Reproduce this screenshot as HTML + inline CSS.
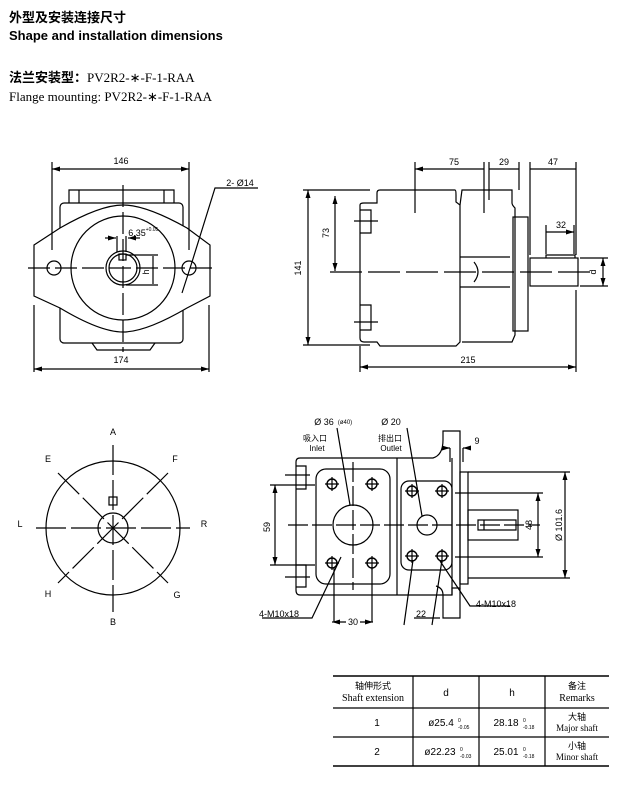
<!DOCTYPE html>
<html><head><meta charset="utf-8"><style>
body{margin:0;background:#fff;width:621px;height:796px;overflow:hidden;font-family:"Liberation Sans","Noto Sans CJK SC",sans-serif}
svg{position:absolute;left:0;top:0}
</style></head><body>
<svg width="621" height="796" viewBox="0 0 621 796" xmlns="http://www.w3.org/2000/svg" font-family="Liberation Sans, Noto Sans CJK SC, sans-serif">
<defs><marker id="a" markerWidth="8" markerHeight="6" refX="8" refY="3" orient="auto-start-reverse" markerUnits="userSpaceOnUse"><path d="M0,0.5 L8,3 L0,5.5z" fill="#000"/></marker></defs>
<text x="9" y="22" font-size="13" font-weight="bold" font-family="Noto Sans CJK SC, sans-serif">外型及安装连接尺寸</text>
<text x="9" y="40" font-size="13" font-weight="bold" font-family="Liberation Sans Narrow, Liberation Sans, sans-serif">Shape and installation dimensions</text>
<text x="9" y="82" font-size="13"><tspan font-weight="bold" font-family="Noto Sans CJK SC, sans-serif">法兰安装型：</tspan><tspan font-family="Liberation Serif, serif">PV2R2-∗-F-1-RAA</tspan></text>
<text x="9" y="101" font-size="13" font-family="Liberation Serif, serif">Flange mounting: PV2R2-∗-F-1-RAA</text>

<g stroke="#000" fill="none" stroke-width="1.2">
<!-- view 1 -->
<path d="M69,203 V190 H174 V203"/><path d="M79,190 V203 M164,190 V203"/>
<rect x="60" y="203" width="123" height="140" rx="4"/>
<path d="M92,343 L97,350 H150 L155,343"/>
<path d="M34,245 L60,228 Q100,205 123,205 Q146,205 187,228 L210,245 V296 L187,308 Q146,332 123,332 Q100,332 60,308 L34,296 Z" fill="#fff"/>
<circle cx="123" cy="268" r="52"/>
<circle cx="123" cy="268" r="17"/><circle cx="123" cy="268" r="14"/>
<rect x="119" y="254" width="7" height="6"/>
<circle cx="54" cy="268" r="7"/><circle cx="189" cy="268" r="7"/>
<path d="M28,268 H215" stroke-dasharray="22,5"/><path d="M123,185 V352" stroke-dasharray="22,5"/>
<path d="M52,162 V250 M189,162 V250"/><path d="M52,169 H189" marker-start="url(#a)" marker-end="url(#a)"/>
<path d="M34,305 V372 M209,305 V372"/><path d="M34,369 H209" marker-start="url(#a)" marker-end="url(#a)"/>
<path d="M105,238 H116" marker-end="url(#a)"/><path d="M140,238 H128" marker-end="url(#a)"/><path d="M117,236 V252 M126,236 V252"/>
<path d="M126,255 H158 M126,285 H158 M153,256 V284"/>
<path d="M258,188 H215 L192,262" /><path d="M192,262 L182,293"/>
<!-- view 2 -->
<path d="M303,190 H370 M303,345 H370"/><path d="M308,190 V345" marker-start="url(#a)" marker-end="url(#a)"/>
<path d="M335,196 V271" marker-start="url(#a)" marker-end="url(#a)"/>
<path d="M360,205 Q360,203 364,203 H377 V193 Q377,190 380,190 H455 Q456,190 456,195 V202 L460,205 V342 L456,346 H380 L377,342 H364 Q360,342 360,338 Z"/>
<path d="M460,205 L462,190 H512 V203 Q512,205 515,208 V335 L512,342 H462"/>
<path d="M360,210 H371 V233 H360 M360,305 H371 V330 H360"/>
<path d="M354,221 H378 M354,322 H378"/>
<rect x="513" y="217" width="15" height="114"/>
<path d="M460,257 H510 M460,287 H510 M474,262 Q482,272 474,282"/>
<rect x="530" y="258" width="48" height="28"/><path d="M546,258 V255 H575 V258"/>
<path d="M330,272 H592" stroke-dasharray="32,6"/>
<path d="M415,162 V213 M484,162 V213 M489,162 V200 M519,162 V190 M530,162 V255 M576,162 V255 M546,225 V254 M574,225 V254"/>
<path d="M415,169 H484 M489,169 H519 M530,169 H576 M546,232 H574" marker-start="url(#a)" marker-end="url(#a)"/>
<path d="M580,258 H608 M580,286 H608"/><path d="M603,258 V286" marker-start="url(#a)" marker-end="url(#a)"/>
<path d="M360,346 V372 M576,290 V372"/><path d="M360,367 H576" marker-start="url(#a)" marker-end="url(#a)"/>
<!-- view 3 -->
<circle cx="113" cy="528" r="67"/><circle cx="113" cy="528" r="15"/>
<rect x="109" y="497" width="8" height="8"/>
<path d="M36,528 H190 M113,445 V612" stroke-dasharray="30,5"/>
<path d="M58,473 L168,583 M168,473 L58,583" stroke-dasharray="30,5"/>
<!-- view 4 -->
<path d="M296,462 Q296,458 300,458 H433 Q443,455 443,440 V431 H460 V588 H452 V595 H300 Q296,595 296,590 Z"/>
<path d="M443,595 V618 H460 V588 M443,595 Q443,588 436,586"/>
<path d="M397,458 V595 M452,458 V595"/>
<path d="M296,466 H306 V489 H296 M296,565 H306 V587 H296 M285,475 H310 M285,577 H310"/>
<rect x="460" y="472" width="8" height="112"/>
<rect x="468" y="510" width="50" height="30"/><path d="M478,520 H516 V530 H478 Z M484,520 V530"/>
<rect x="316" y="469" width="74" height="115" rx="10"/>
<circle cx="353" cy="525" r="20"/>
<rect x="401" y="481" width="51" height="89" rx="8"/>
<circle cx="427" cy="525" r="10"/>
<g stroke-width="1.4"><circle cx="332" cy="484" r="5"/><circle cx="372" cy="484" r="5"/><circle cx="332" cy="563" r="5"/><circle cx="372" cy="563" r="5"/><circle cx="412" cy="491" r="5"/><circle cx="442" cy="491" r="5"/><circle cx="412" cy="556" r="5"/><circle cx="442" cy="556" r="5"/></g>
<path d="M325,484 H339 M332,477 V491 M365,484 H379 M372,477 V491 M325,563 H339 M332,556 V570 M365,563 H379 M372,556 V570 M405,491 H419 M412,484 V498 M435,491 H449 M442,484 V498 M405,556 H419 M412,549 V563 M435,556 H449 M442,549 V563"/>
<path d="M288,525 H540 M353,462 V590" stroke-dasharray="20,4"/>
<path d="M270,485 H315 M270,565 H315"/><path d="M275,485 V565" marker-start="url(#a)" marker-end="url(#a)"/>
<path d="M455,493 H543 M455,557 H543"/><path d="M538,493 V557" marker-start="url(#a)" marker-end="url(#a)"/>
<path d="M468,472 H570 M468,578 H570"/><path d="M565,472 V578" marker-start="url(#a)" marker-end="url(#a)"/>
<path d="M334,568 V622 M372,568 V622"/><path d="M338,622 H346 M368,622 H360" />
<path d="M337,622 L332,622" marker-end="url(#a)"/><path d="M368,622 L373,622" marker-end="url(#a)"/>
<path d="M413,560 L404,625 M442,560 L432,625 M414,618 H440" />
<path d="M450,448 V462 M463,448 V462 M445,448 H450" marker-end="url(#a)"/><path d="M468,448 H463" marker-end="url(#a)"/>
<path d="M337,428 L350,505 M407,428 L422,516 M341,557 L312,618 H262 M440,561 L470,606 H510"/>
<!-- table -->
<path d="M333,676 H609 M333,766 H609" stroke-width="1.6"/>
<path d="M333,708 H609 M333,737 H609 M413,676 V766 M479,676 V766 M545,676 V766"/>
</g>
<g font-size="9" text-anchor="middle">
<text x="121" y="164">146</text><text x="121" y="363">174</text>
<text x="240" y="186">2- Ø14</text>
<text x="137" y="236">6.35</text><text x="152" y="231" font-size="5">+0.05</text>
<text x="149" y="272" transform="rotate(-90 149 272)">h</text>
<text x="454" y="165">75</text><text x="504" y="165">29</text><text x="553" y="165">47</text>
<text x="561" y="228">32</text><text x="468" y="363">215</text>
<text x="301" y="268" transform="rotate(-90 301 268)">141</text>
<text x="329" y="233" transform="rotate(-90 329 233)">73</text>
<text x="596" y="272" transform="rotate(-90 596 272)">d</text>
<text x="113" y="435">A</text><text x="113" y="625">B</text><text x="20" y="527">L</text><text x="204" y="527">R</text>
<text x="48" y="462">E</text><text x="175" y="462">F</text><text x="48" y="597">H</text><text x="177" y="598">G</text>
<text x="324" y="425">Ø 36</text><text x="345" y="424" font-size="6">(ø40)</text>
<text x="391" y="425">Ø 20</text>
<text x="315" y="441" font-size="8">吸入口</text><text x="317" y="451" font-size="8">Inlet</text>
<text x="390" y="441" font-size="8">排出口</text><text x="391" y="451" font-size="8">Outlet</text>
<text x="477" y="444">9</text>
<text x="270" y="527" transform="rotate(-90 270 527)">59</text>
<text x="532" y="525" transform="rotate(-90 532 525)">48</text>
<text x="562" y="525" transform="rotate(-90 562 525)">Ø 101.6</text>
<text x="353" y="625">30</text><text x="421" y="617">22</text>
<text x="279" y="617">4-M10x18</text><text x="496" y="607">4-M10x18</text>
<text x="373" y="689" font-size="9" font-family="Noto Sans CJK SC, sans-serif">轴伸形式</text>
<text x="373" y="701" font-size="10" font-family="Liberation Serif, serif">Shaft extension</text>
<text x="446" y="696" font-size="10">d</text><text x="512" y="696" font-size="10">h</text>
<text x="577" y="689" font-size="9" font-family="Noto Sans CJK SC, sans-serif">备注</text>
<text x="577" y="701" font-size="10" font-family="Liberation Serif, serif">Remarks</text>
<text x="377" y="726" font-size="10">1</text><text x="377" y="755" font-size="10">2</text>
<text x="441" y="726" font-size="10">ø25.4</text><text x="506" y="726" font-size="10">28.18</text>
<text x="440" y="755" font-size="10">ø22.23</text><text x="506" y="755" font-size="10">25.01</text>
<text x="577" y="720" font-size="9" font-family="Noto Sans CJK SC, sans-serif">大轴</text>
<text x="577" y="731" font-size="9" font-family="Liberation Serif, serif">Major shaft</text>
<text x="577" y="749" font-size="9" font-family="Noto Sans CJK SC, sans-serif">小轴</text>
<text x="577" y="760" font-size="9" font-family="Liberation Serif, serif">Minor shaft</text>
</g>
<g font-size="5"><text x="458" y="722">0</text><text x="458" y="729">-0.05</text><text x="523" y="722">0</text><text x="523" y="729">-0.18</text><text x="460" y="751">0</text><text x="460" y="758">-0.03</text><text x="523" y="751">0</text><text x="523" y="758">-0.18</text></g>
</svg>
</body></html>
